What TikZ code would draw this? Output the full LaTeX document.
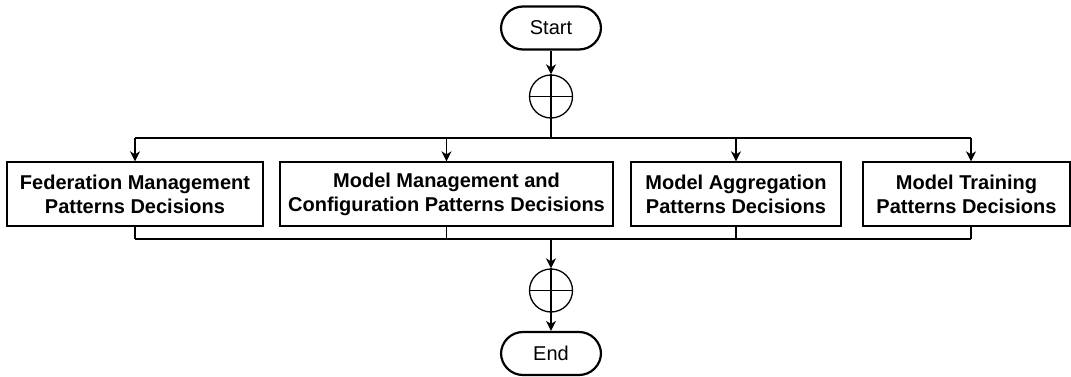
\documentclass[tikz,border=0pt]{standalone}
\usepackage{fontspec}
\setmainfont{Liberation Sans}
\usetikzlibrary{arrows.meta,positioning}
\begin{document}
\begin{tikzpicture}[x=1pt,y=-1pt,
  term/.style={draw,line width=2.2pt,rounded corners=22pt,minimum width=100pt,minimum height=43pt,inner sep=0pt,font=\fontsize{20}{24}\selectfont},
  dbox/.style={draw,line width=1.3pt,minimum height=64pt,inner sep=0pt,align=center,font=\fontsize{20}{24}\selectfont\bfseries},
  junc/.style={draw,circle,line width=1.3pt,minimum size=43pt,inner sep=0pt},
  conn/.style={line width=1.5pt},
  arr/.style={conn,-{Stealth[length=10pt,width=10pt,inset=3pt]}}
]
\useasboundingbox (0,0) rectangle (1071,377);
\node[term] (start) at (551,28) {Start};
\node[junc] (j1) at (551,96.5) {};
\node[junc] (j2) at (551,290.5) {};
\node[term] (end) at (551,353.5) {End};
\draw[line width=1.3pt] (j1.north) -- (j1.south) (j1.west) -- (j1.east);
\draw[line width=1.3pt] (j2.north) -- (j2.south) (j2.west) -- (j2.east);

\node[dbox,minimum width=256pt] (b1) at (135,194) {Federation Management\\Patterns Decisions};
\node[dbox,minimum width=333pt] (b2) at (446.5,194) {Model Management and\\Configuration Patterns Decisions};
\node[dbox,minimum width=210pt] (b3) at (736,194) {Model Aggregation\\Patterns Decisions};
\node[dbox,minimum width=207pt] (b4) at (966.5,194) {Model Training\\Patterns Decisions};

\coordinate (s) at (551,138);
\coordinate (t1) at (135,138);
\coordinate (t2) at (446.5,138);
\coordinate (t3) at (736,138);
\coordinate (t4) at (971,138);
\coordinate (m) at (551,239);
\coordinate (u1) at (135,239);
\coordinate (u2) at (446.5,239);
\coordinate (u3) at (736,239);
\coordinate (u4) at (971,239);

\draw[arr] (start) -- (j1);
\draw[conn] (j1) -- (s);
\draw[conn] (t1) -- (t4);
\draw[arr] (t1) -- (b1);
\draw[arr] (t2) -- (b2);
\draw[arr] (t3) -- (b3);
\draw[arr] (t4) -- (t4 |- b4.north);

\draw[conn] (b1) -- (u1);
\draw[conn] (b2) -- (u2);
\draw[conn] (b3) -- (u3);
\draw[conn] (b4.south -| u4) -- (u4);
\draw[conn] (u1) -- (u4);
\draw[arr] (m) -- (j2);
\draw[arr] (j2) -- (end);
\end{tikzpicture}
\end{document}
